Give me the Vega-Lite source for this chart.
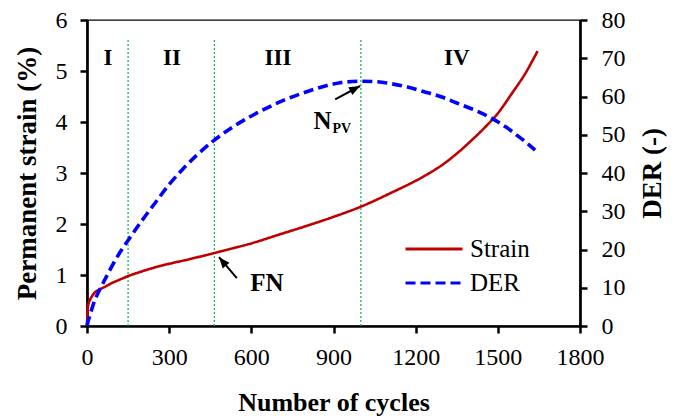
{
  "$schema": "https://vega.github.io/schema/vega-lite/v6.json",
  "width": 493,
  "height": 306,
  "autosize": "none",
  "padding": {"left": 87, "top": 20, "right": 101, "bottom": 90},
  "background": "white",
  "config": {
    "font": "Liberation Serif",
    "view": {"stroke": "black", "strokeWidth": 1.3},
    "axis": {
      "labelFont": "Liberation Serif",
      "titleFont": "Liberation Serif",
      "labelFontSize": 24,
      "titleFontSize": 26,
      "titleFontWeight": "bold",
      "labelColor": "black",
      "titleColor": "black",
      "domainColor": "black",
      "domainWidth": 2.7,
      "tickColor": "black",
      "tickWidth": 2.5,
      "tickSize": 7,
      "grid": false,
      "format": "d"
    },
    "legend": {
      "title": null,
      "orient": "none",
      "legendX": 331,
      "legendY": 213,
      "padding": 0,
      "symbolType": "M-2,0H2",
      "symbolSize": 812,
      "symbolStrokeWidth": 3,
      "labelFont": "Liberation Serif",
      "labelFontSize": 25,
      "labelColor": "black",
      "labelOffset": 20,
      "rowPadding": 5
    }
  },
  "datasets": {
    "strain": [
      {"series": "Strain", "cycles": 0, "strain": 0},
      {"series": "Strain", "cycles": 2, "strain": 0.3},
      {"series": "Strain", "cycles": 5, "strain": 0.42},
      {"series": "Strain", "cycles": 11, "strain": 0.51},
      {"series": "Strain", "cycles": 20, "strain": 0.6},
      {"series": "Strain", "cycles": 29, "strain": 0.66},
      {"series": "Strain", "cycles": 47, "strain": 0.72},
      {"series": "Strain", "cycles": 70, "strain": 0.78},
      {"series": "Strain", "cycles": 90, "strain": 0.84},
      {"series": "Strain", "cycles": 120, "strain": 0.91},
      {"series": "Strain", "cycles": 151, "strain": 0.98},
      {"series": "Strain", "cycles": 200, "strain": 1.07},
      {"series": "Strain", "cycles": 236, "strain": 1.13},
      {"series": "Strain", "cycles": 300, "strain": 1.22},
      {"series": "Strain", "cycles": 358, "strain": 1.29},
      {"series": "Strain", "cycles": 420, "strain": 1.37},
      {"series": "Strain", "cycles": 465, "strain": 1.43},
      {"series": "Strain", "cycles": 530, "strain": 1.52},
      {"series": "Strain", "cycles": 600, "strain": 1.62},
      {"series": "Strain", "cycles": 700, "strain": 1.79},
      {"series": "Strain", "cycles": 800, "strain": 1.96},
      {"series": "Strain", "cycles": 900, "strain": 2.14},
      {"series": "Strain", "cycles": 1000, "strain": 2.34},
      {"series": "Strain", "cycles": 1106, "strain": 2.6},
      {"series": "Strain", "cycles": 1228, "strain": 2.93},
      {"series": "Strain", "cycles": 1300, "strain": 3.17},
      {"series": "Strain", "cycles": 1350, "strain": 3.38},
      {"series": "Strain", "cycles": 1400, "strain": 3.62},
      {"series": "Strain", "cycles": 1450, "strain": 3.88},
      {"series": "Strain", "cycles": 1500, "strain": 4.17},
      {"series": "Strain", "cycles": 1550, "strain": 4.55},
      {"series": "Strain", "cycles": 1600, "strain": 4.95},
      {"series": "Strain", "cycles": 1645, "strain": 5.39}
    ],
    "der": [
      {"series": "DER", "cycles": 0, "der": 0},
      {"series": "DER", "cycles": 5, "der": 1.5},
      {"series": "DER", "cycles": 11, "der": 2.9},
      {"series": "DER", "cycles": 20, "der": 5.0},
      {"series": "DER", "cycles": 29, "der": 6.8},
      {"series": "DER", "cycles": 47, "der": 9.6},
      {"series": "DER", "cycles": 70, "der": 12.8},
      {"series": "DER", "cycles": 90, "der": 15.5},
      {"series": "DER", "cycles": 120, "der": 19.2},
      {"series": "DER", "cycles": 151, "der": 22.5},
      {"series": "DER", "cycles": 200, "der": 27.5},
      {"series": "DER", "cycles": 248, "der": 32.1},
      {"series": "DER", "cycles": 300, "der": 37.0},
      {"series": "DER", "cycles": 352, "der": 41.2},
      {"series": "DER", "cycles": 400, "der": 44.6},
      {"series": "DER", "cycles": 465, "der": 48.6},
      {"series": "DER", "cycles": 530, "der": 51.9},
      {"series": "DER", "cycles": 595, "der": 54.7},
      {"series": "DER", "cycles": 660, "der": 57.1},
      {"series": "DER", "cycles": 717, "der": 59.0},
      {"series": "DER", "cycles": 780, "der": 60.7},
      {"series": "DER", "cycles": 839, "der": 62.1},
      {"series": "DER", "cycles": 924, "der": 63.6},
      {"series": "DER", "cycles": 1000, "der": 64.0},
      {"series": "DER", "cycles": 1050, "der": 63.9},
      {"series": "DER", "cycles": 1106, "der": 63.4},
      {"series": "DER", "cycles": 1170, "der": 62.5},
      {"series": "DER", "cycles": 1228, "der": 61.3},
      {"series": "DER", "cycles": 1290, "der": 60.0},
      {"series": "DER", "cycles": 1350, "der": 58.3},
      {"series": "DER", "cycles": 1420, "der": 56.3},
      {"series": "DER", "cycles": 1478, "der": 54.3},
      {"series": "DER", "cycles": 1530, "der": 52.0},
      {"series": "DER", "cycles": 1569, "der": 49.9},
      {"series": "DER", "cycles": 1600, "der": 48.2},
      {"series": "DER", "cycles": 1636, "der": 46.0}
    ],
    "stages": [
      {"cycles": 150, "strain": 0, "top": 5.63},
      {"cycles": 465, "strain": 0, "top": 5.63},
      {"cycles": 1000, "strain": 0, "top": 5.63}
    ],
    "stageLabels": [
      {"cycles": 77, "strain": 5.26, "label": "I"},
      {"cycles": 310, "strain": 5.26, "label": "II"},
      {"cycles": 697, "strain": 5.26, "label": "III"},
      {"cycles": 1350, "strain": 5.26, "label": "IV"}
    ],
    "arrows": [
      {"name": "FN", "cycles": 547, "strain": 0.94, "cycles_tip": 482, "strain_tip": 1.35},
      {"name": "NPV", "cycles": 906, "strain": 4.445, "cycles_tip": 997, "strain_tip": 4.706}
    ],
    "notes": [
      {"cycles": 657, "strain": 0.84, "label": "FN"},
      {"cycles": 860, "strain": 4.01, "label": "N"}
    ],
    "subscripts": [
      {"cycles": 930, "strain": 3.86, "label": "PV"}
    ]
  },
  "encoding": {
    "x": {
      "field": "cycles",
      "type": "quantitative",
      "scale": {"domain": [0, 1800], "nice": false},
      "axis": {
        "title": "Number of cycles",
        "values": [0, 300, 600, 900, 1200, 1500, 1800],
        "labelPadding": 12,
        "titlePadding": 20,
        "labelFlush": false
      }
    }
  },
  "layer": [
    {
      "encoding": {
        "y": {
          "field": "strain",
          "type": "quantitative",
          "scale": {"domain": [0, 6], "nice": false},
          "axis": {
            "title": "Permanent strain (%)",
            "values": [0, 1, 2, 3, 4, 5, 6],
            "labelPadding": 13,
            "titlePadding": 14,
            "titleFontSize": 27,
            "labelFlush": false
          }
        }
      },
      "layer": [
        {
          "data": {"name": "stages"},
          "mark": {"type": "rule", "color": "#00B050", "strokeWidth": 1.2, "strokeDash": [2, 2]},
          "encoding": {"y2": {"field": "top"}}
        },
        {
          "data": {"name": "strain"},
          "mark": {"type": "line", "strokeWidth": 2.6, "interpolate": "monotone"},
          "encoding": {
            "color": {
              "field": "series",
              "type": "nominal",
              "scale": {"domain": ["Strain", "DER"], "range": ["#C00000", "#0000FF"]}
            },
            "strokeDash": {
              "field": "series",
              "type": "nominal",
              "scale": {"domain": ["Strain", "DER"], "range": [[1, 0], [10, 5]]}
            }
          }
        },
        {
          "data": {"name": "stageLabels"},
          "mark": {"type": "text", "font": "Liberation Serif", "fontWeight": "bold", "fontSize": 23, "color": "black", "baseline": "middle"},
          "encoding": {"text": {"field": "label"}}
        },
        {
          "data": {"name": "arrows"},
          "mark": {"type": "rule", "color": "black", "strokeWidth": 2},
          "encoding": {"x2": {"field": "cycles_tip"}, "y2": {"field": "strain_tip"}}
        },
        {
          "data": {"name": "arrows"},
          "transform": [{"filter": "datum.name === 'FN'"}],
          "mark": {"type": "point", "shape": "M0,0L0.4,1L-0.4,1Z", "filled": true, "color": "black", "opacity": 1, "size": 484, "angle": 320},
          "encoding": {"x": {"field": "cycles_tip", "type": "quantitative"}, "y": {"field": "strain_tip", "type": "quantitative"}}
        },
        {
          "data": {"name": "arrows"},
          "transform": [{"filter": "datum.name === 'NPV'"}],
          "mark": {"type": "point", "shape": "M0,0L0.4,1L-0.4,1Z", "filled": true, "color": "black", "opacity": 1, "size": 484, "angle": 62},
          "encoding": {"x": {"field": "cycles_tip", "type": "quantitative"}, "y": {"field": "strain_tip", "type": "quantitative"}}
        },
        {
          "data": {"name": "notes"},
          "mark": {"type": "text", "font": "Liberation Serif", "fontWeight": "bold", "fontSize": 25, "color": "black", "baseline": "middle"},
          "encoding": {"text": {"field": "label"}}
        },
        {
          "data": {"name": "subscripts"},
          "mark": {"type": "text", "font": "Liberation Serif", "fontWeight": "bold", "fontSize": 14, "color": "black", "baseline": "middle"},
          "encoding": {"text": {"field": "label"}}
        }
      ]
    },
    {
      "data": {"name": "der"},
      "mark": {"type": "line", "strokeWidth": 3.6, "interpolate": "monotone"},
      "encoding": {
        "y": {
          "field": "der",
          "type": "quantitative",
          "scale": {"domain": [0, 80], "nice": false},
          "axis": {
            "orient": "right",
            "title": "DER (-)",
            "values": [0, 10, 20, 30, 40, 50, 60, 70, 80],
            "labelPadding": 14,
            "titlePadding": 14,
            "titleAngle": 270,
            "titleBaseline": "top",
            "titleFontSize": 27,
            "labelFlush": false
          }
        },
        "color": {"field": "series", "type": "nominal"},
        "strokeDash": {"field": "series", "type": "nominal"}
      }
    }
  ],
  "resolve": {"scale": {"y": "independent"}}
}
